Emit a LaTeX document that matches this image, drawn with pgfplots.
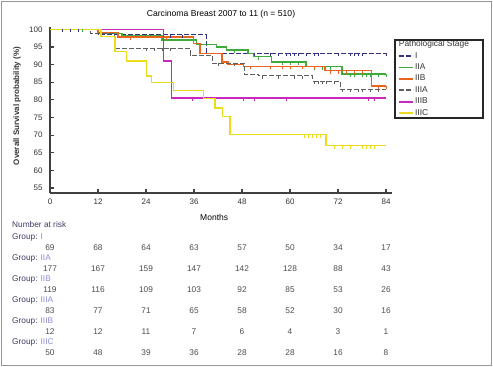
\documentclass[border=0pt]{standalone}
\usepackage{pgfplots}
\pgfplotsset{compat=1.18}
\usepackage{fontspec}
\setmainfont{Liberation Sans}
\definecolor{cI}{RGB}{50,50,130}
\definecolor{cIIA}{RGB}{60,170,60}
\definecolor{cIIB}{RGB}{235,100,30}
\definecolor{cIIIA}{RGB}{95,95,95}
\definecolor{cIIIB}{RGB}{200,40,190}
\definecolor{cIIIC}{RGB}{235,220,30}
\definecolor{framec}{RGB}{150,150,150}
\definecolor{lav}{RGB}{140,140,215}
\definecolor{navytext}{RGB}{60,60,100}
\pgfdeclareplotmark{cdown}{\pgfpathmoveto{\pgfpoint{0pt}{0pt}}\pgfpathlineto{\pgfpoint{0pt}{-\pgfplotmarksize}}\pgfusepathqstroke}
\begin{document}
\begin{tikzpicture}[x=1pt,y=1pt]
\useasboundingbox (0,0) rectangle (493,367);
\draw[framec, line width=1.5pt] (1.5,1.5) rectangle (491.5,365.5);
\begin{axis}[
  at={(50pt,174pt)}, anchor=south west,
  scale only axis, width=342pt, height=166pt,
  xmin=0, xmax=85.5, ymin=53.6, ymax=100.65,
  axis x line=bottom, axis y line=left,
  axis line style={-, line width=1.2pt, black!75},
  xtick={0,12,...,84}, ytick={55,60,...,100},
  tick align=inside, major tick length=4pt,
  tick style={line width=1.2pt, black!75},
  ticklabel style={font=\fontsize{8}{9}\selectfont, text=black!80},
  yticklabel style={xshift=-4pt},
  xticklabel style={yshift=-2pt},
  /pgf/number format/assume math mode=true,
  title={Carcinoma Breast 2007 to 11 (n = 510)},
  title style={font=\fontsize{8.6}{10}\selectfont, at={(axis description cs:0.5,1)}, anchor=center, yshift=7pt},
  xlabel={Months},
  xlabel style={font=\fontsize{8.5}{10}\selectfont, at={(axis description cs:0.48,0)}, anchor=center, yshift=-24pt},
  ylabel={Overall Survival probability (\%)},
  ylabel style={font=\fontsize{8}{9}\selectfont\bfseries, text=black!80, at={(axis description cs:-0.0965,0.524)}, anchor=center},
  clip=false,
  legend style={at={(1.012,0.932)}, anchor=north west, draw=none, fill=none,
    font=\fontsize{8.4}{10}\selectfont, inner sep=1.5pt, row sep=2.95pt, text=black!80,
    nodes={inner sep=0.6pt}, column sep=1pt},
  legend cell align=left,
  legend image code/.code={\draw[#1] (0pt,0pt) -- (14pt,0pt);},
  legend image post style={line width=1.7pt},
]
\addlegendimage{empty legend}
\addlegendentry{\hspace{-16.2pt}Pathological Stage}
% I
\addplot[const plot, cI, line width=0.9pt, dash pattern=on 5pt off 2pt] coordinates {(0,100) (12,98.4) (39,93.2) (84,93.2)};
\addlegendentry{I}
% IIA
\addplot[const plot, cIIA, line width=1.3pt] coordinates {(0,100) (12,98.9) (18,98.3) (28,97) (36.7,95.6) (41.7,95) (44.2,94.1) (49.5,93.1) (50.8,92.2) (55.4,90.7) (64,89.4) (73,87.3) (84,87.3)};
\addlegendentry{IIA}
% IIB
\addplot[const plot, cIIB, line width=1.3pt] coordinates {(0,100) (12,99) (17,97.8) (35.8,95.9) (37.5,93.1) (43,90.7) (44.5,90) (48.3,89.5) (68.75,88.3) (80.4,83.9) (84,83.9)};
\addlegendentry{IIB}
% IIIA
\addplot[const plot, cIIIA, line width=0.9pt, dash pattern=on 5pt off 2pt] coordinates {(0,100) (10,98.8) (16,94.6) (35,92.7) (40.5,90.4) (48.5,87.3) (52,86.8) (65.7,85.3) (72.5,83) (84,83)};
\addlegendentry{IIIA}
% IIIB
\addplot[const plot, cIIIB, line width=1.3pt] coordinates {(0,100) (28.3,91) (30.4,80.5) (84,80.5)};
\addlegendentry{IIIB}
% IIIC
\addplot[const plot, cIIIC, line width=1.3pt] coordinates {(0,100) (12.75,97.9) (16.25,93.7) (19.2,91) (24.2,86.8) (25.4,84.9) (30.8,82.7) (38.3,80.3) (41.25,77.7) (43.2,75.2) (45,70.1) (69,67) (84,67)};
\addlegendentry{IIIC}
% censoring marks
\pgfplotsset{every axis plot/.append style={forget plot}}
\addplot[only marks, mark=cdown, mark size=3pt, cI, mark options={line width=0.7pt}] coordinates {(3,100) (5,100) (7,100) (30,98.4) (33,98.4) (51,93.2) (55,93.2) (57,93.2) (59,93.2) (60,93.2) (61,93.2) (62,93.2) (64,93.2) (66,93.2) (67,93.2) (72,93.2) (75,93.2) (76,93.2) (77,93.2) (78,93.2) (84,93.2)};
\addplot[only marks, mark=cdown, mark size=3pt, cIIA, mark options={line width=0.7pt}] coordinates {(8,100) (46,94.1) (52,92.2) (58,90.7) (60,90.7) (62,90.7) (66,89.4) (68,89.4) (70,89.4) (75,87.3) (76,87.3) (78,87.3) (79,87.3) (80,87.3) (82,87.3) (84,87.3)};
\addplot[only marks, mark=cdown, mark size=3pt, cIIB, mark options={line width=0.7pt}] coordinates {(20,97.8) (29,97.8) (50,89.5) (55,89.5) (58,89.5) (60,89.5) (63,89.5) (66,89.5) (70,88.3) (72,88.3) (74,88.3) (76,88.3) (78,88.3) (82,83.9) (84,83.9)};
\addplot[only marks, mark=cdown, mark size=3pt, cIIIA, mark options={line width=0.7pt}] coordinates {(24,94.6) (26,94.6) (28,94.6) (30,94.6) (42,90.4) (46,90.4) (53,86.8) (57,86.8) (61,86.8) (63,86.8) (66,85.3) (67,85.3) (68,85.3) (69,85.3) (71,85.3) (73,83) (75,83) (77,83) (78,83) (80,83) (82,83)};
\addplot[only marks, mark=cdown, mark size=3pt, cIIIB, mark options={line width=0.7pt}] coordinates {(35.5,80.5) (48.3,80.5) (51,80.5) (59,80.5) (79.5,80.5) (81,80.5)};
\addplot[only marks, mark=cdown, mark size=3pt, cIIIC, mark options={line width=0.7pt}] coordinates {(63.5,70.1) (64.5,70.1) (65.5,70.1) (66.5,70.1) (67.5,70.1) (71,67) (73,67) (75,67) (78,67) (79,67) (80,67) (81,67)};
\end{axis}
\draw[black!85, line width=1.2pt] (395,249) rectangle (483,327);
\begin{scope}[every node/.style={font=\fontsize{8.3}{9}\selectfont, inner sep=0pt}]
\node[anchor=west, text=navytext] at (12,142) {Number at risk};
\foreach \g/\vals [count=\k from 0] in {I/{69,68,64,63,57,50,34,17},IIA/{177,167,159,147,142,128,88,43},IIB/{119,116,109,103,92,85,53,26},IIIA/{83,77,71,65,58,52,30,16},IIIB/{12,12,11,7,6,4,3,1},IIIC/{50,48,39,36,28,28,16,8}} {
  \node[anchor=west, text=navytext] at (12,{367-237.5-21*\k}) {Group: \textcolor{lav}{\g}};
  \foreach \v [count=\j from 0] in \vals {
    \node[text=black!70] at ({50+48*\j},{367-247.5-21.1*\k}) {\v};
  }
}
\end{scope}
\end{tikzpicture}
\end{document}
